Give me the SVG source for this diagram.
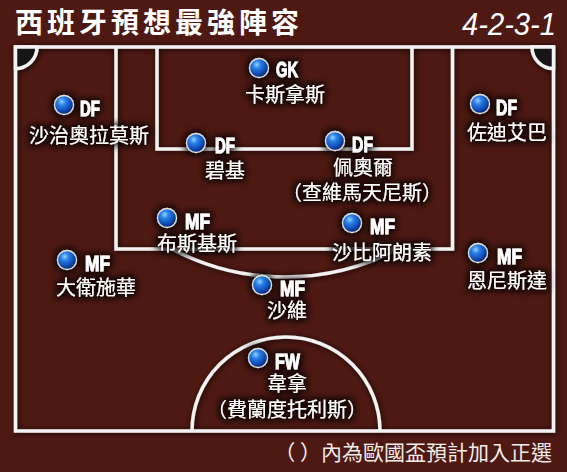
<svg xmlns="http://www.w3.org/2000/svg" width="567" height="472" viewBox="0 0 567 472">
<defs>
<radialGradient id="ball" cx="0.38" cy="0.32" r="0.7">
<stop offset="0" stop-color="#8fd0ff"/>
<stop offset="0.3" stop-color="#2a80e6"/>
<stop offset="0.75" stop-color="#0c46b0"/>
<stop offset="1" stop-color="#05225e"/>
</radialGradient>
<filter id="lineShadow" x="-5%" y="-5%" width="110%" height="110%">
<feGaussianBlur in="SourceAlpha" stdDeviation="3"/>
<feOffset dx="1" dy="1" result="b"/>
<feFlood flood-color="#000" flood-opacity="0.85"/>
<feComposite in2="b" operator="in"/>
<feMerge><feMergeNode/><feMergeNode in="SourceGraphic"/></feMerge>
</filter>
<filter id="halo" x="-30%" y="-40%" width="160%" height="180%">
<feMorphology in="SourceAlpha" operator="dilate" radius="2"/>
<feGaussianBlur stdDeviation="3.5" result="b"/>
<feFlood flood-color="#0a0202" flood-opacity="0.9"/>
<feComposite in2="b" operator="in"/>
<feMerge><feMergeNode/><feMergeNode in="SourceGraphic"/></feMerge>
</filter>
<style>
.line{fill:none;stroke:#f2f2f2;stroke-width:3.5}
.corner{fill:#171515;stroke:#f2f2f2;stroke-width:3.5}
.ball{fill:url(#ball);stroke:#e0e0e0;stroke-width:1.3}
.pos{font-family:"Liberation Sans",Arial,sans-serif;font-weight:bold;font-size:22px;fill:#fff;stroke:#fff;stroke-width:0.8}
.name{font-family:"Noto Sans CJK TC","Noto Sans CJK SC",sans-serif;font-size:20px;fill:#fff;text-anchor:middle}
</style>
</defs>
<rect x="0" y="0" width="567" height="472" fill="#4e1912"/>
<g id="title">
<text x="15" y="33" font-family="Noto Sans CJK TC,Noto Sans CJK SC,sans-serif" font-weight="bold" font-size="28" fill="#fff" textLength="284" lengthAdjust="spacing">西班牙預想最強陣容</text>
<text x="462" y="35" font-family="Liberation Sans,Arial,sans-serif" font-style="italic" font-size="31" fill="#fff" textLength="94" lengthAdjust="spacingAndGlyphs">4-2-3-1</text>
</g>
<g id="pitch" filter="url(#lineShadow)">
<rect class="line" x="15.5" y="47" width="538" height="384"/>
<path class="corner" d="M15.5 47 H37 A21.5 21.5 0 0 1 15.5 68.5 Z"/>
<path class="corner" d="M553.5 47 H532 A21.5 21.5 0 0 0 553.5 68.5 Z"/>
<path class="line" d="M116 47 V249 H452.5 V47"/>
<path class="line" d="M157 47 V149 H412 V47"/>
<path class="line" d="M172 249 A242 242 0 0 0 398 249"/>
<path class="line" d="M192 431 A94 94 0 0 1 380 431"/>
</g>
<g id="connectors"></g>
<g id="gk" filter="url(#halo)">
<circle class="ball" cx="259" cy="68" r="9.5"/>
<text class="pos" x="276" y="77" textLength="22" lengthAdjust="spacingAndGlyphs">GK</text>
<text class="name" x="285" y="102">卡斯拿斯</text>
</g>
<g id="df-left" filter="url(#halo)">
<circle class="ball" cx="64" cy="105" r="9.5"/>
<text class="pos" x="80" y="116" textLength="20" lengthAdjust="spacingAndGlyphs">DF</text>
<text class="name" x="89" y="143">沙治奧拉莫斯</text>
</g>
<g id="df-cl" filter="url(#halo)">
<circle class="ball" cx="196" cy="143" r="9.5"/>
<text class="pos" x="215" y="153" textLength="20" lengthAdjust="spacingAndGlyphs">DF</text>
<text class="name" x="225" y="178">碧基</text>
</g>
<g id="df-cr" filter="url(#halo)">
<circle class="ball" cx="335" cy="141" r="9.5"/>
<text class="pos" x="352" y="152" textLength="21" lengthAdjust="spacingAndGlyphs">DF</text>
<text class="name" x="363" y="175">佩奧爾</text>
<text class="name" x="362" y="200">（查維馬天尼斯）</text>
</g>
<g id="df-right" filter="url(#halo)">
<circle class="ball" cx="480" cy="104" r="9.5"/>
<text class="pos" x="496" y="115" textLength="21" lengthAdjust="spacingAndGlyphs">DF</text>
<text class="name" x="507" y="140">佐迪艾巴</text>
</g>
<g id="mf-cl" filter="url(#halo)">
<circle class="ball" cx="167" cy="218" r="9.5"/>
<text class="pos" x="185" y="229" textLength="25" lengthAdjust="spacingAndGlyphs">MF</text>
<text class="name" x="197" y="251">布斯基斯</text>
</g>
<g id="mf-cr" filter="url(#halo)">
<circle class="ball" cx="352" cy="223" r="9.5"/>
<text class="pos" x="370" y="234" textLength="25" lengthAdjust="spacingAndGlyphs">MF</text>
<text class="name" x="382" y="260">沙比阿朗素</text>
</g>
<g id="mf-left" filter="url(#halo)">
<circle class="ball" cx="67" cy="260" r="9.5"/>
<text class="pos" x="85" y="271" textLength="25" lengthAdjust="spacingAndGlyphs">MF</text>
<text class="name" x="96" y="295">大衛施華</text>
</g>
<g id="mf-right" filter="url(#halo)">
<circle class="ball" cx="478" cy="253" r="9.5"/>
<text class="pos" x="497" y="264" textLength="25" lengthAdjust="spacingAndGlyphs">MF</text>
<text class="name" x="507" y="288">恩尼斯達</text>
</g>
<g id="mf-center" filter="url(#halo)">
<circle class="ball" cx="262" cy="285" r="9.5"/>
<text class="pos" x="280" y="296" textLength="25" lengthAdjust="spacingAndGlyphs">MF</text>
<text class="name" x="287" y="318">沙維</text>
</g>
<g id="fw" filter="url(#halo)">
<circle class="ball" cx="258" cy="358" r="9.5"/>
<text class="pos" x="275" y="369" textLength="25" lengthAdjust="spacingAndGlyphs">FW</text>
<text class="name" x="287" y="391">韋拿</text>
<text class="name" x="287" y="417">（費蘭度托利斯）</text>
</g>
<g id="footnote">
<text x="552" y="460" text-anchor="end" font-family="Noto Sans CJK TC,Noto Sans CJK SC,sans-serif" font-size="21" fill="#f0ecea">（ ）內為歐國盃預計加入正選</text>
</g>
</svg>
